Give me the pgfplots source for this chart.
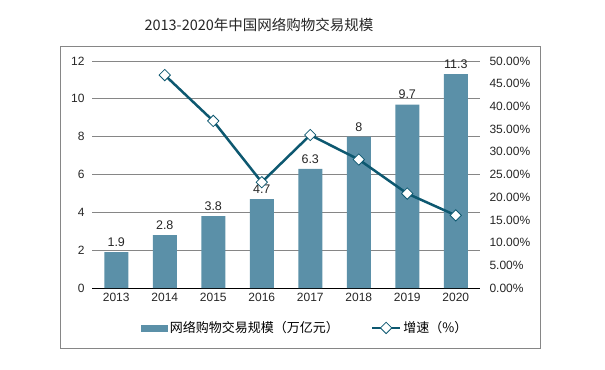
\documentclass[border=0pt]{standalone}
\usepackage{fontspec}
\setmainfont{Liberation Sans}
\newfontfamily\cjk{Noto Sans CJK SC}
\usepackage{pgfplots}
\pgfplotsset{compat=1.18}
\definecolor{barc}{HTML}{5B90A8}
\definecolor{linec}{HTML}{0D5870}
\definecolor{gridc}{HTML}{868686}
\pgfplotsset{mylinelegend/.style={legend image code/.code={\draw[mark repeat=2,mark phase=2,##1] plot coordinates {(0bp,0bp) (14bp,0bp) (28bp,0bp)};}}}
\begin{document}
\begin{tikzpicture}[x=1bp,y=1bp]
\path (0,0) rectangle (605,369);
\draw[color=gridc, line width=0.8bp] (60.5,21) rectangle (540.5,323);
\node[font=\cjk\fontsize{14.5bp}{16bp}\selectfont, text=black!85] at (259,344) {2013-2020年中国网络购物交易规模};
\begin{axis}[
  at={(92bp,81bp)}, anchor=south west,
  scale only axis, width=388bp, height=227bp,
  xmin=-0.5, xmax=7.5, ymin=0, ymax=12,
  xtick={0,...,7}, xticklabels={2013,2014,2015,2016,2017,2018,2019,2020},
  ytick={0,2,...,12},
  axis x line*=bottom, axis y line*=left,
  x axis line style={black, line width=0.9bp, -},
  y axis line style={draw=none},
  major tick length=0pt,
  ymajorgrids, grid style={gridc, line width=0.8bp},
  tick label style={font=\fontsize{12bp}{14bp}\selectfont, text=black!85},
  /pgf/number format/assume math mode=true,
  yticklabel style={xshift=-4bp},
  xticklabel style={yshift=-2bp},
]
\addplot[ybar, bar width=24bp, fill=barc, draw=none,
  nodes near coords,
  nodes near coords style={font=\fontsize{12.5bp}{14bp}\selectfont, text=black!85, yshift=2bp}]
  coordinates {(0,1.9) (1,2.8) (2,3.8) (3,4.7) (4,6.3) (5,8) (6,9.7) (7,11.3)};
\end{axis}
\begin{axis}[
  at={(92bp,81bp)}, anchor=south west,
  scale only axis, width=388bp, height=227bp,
  xmin=-0.5, xmax=7.5, ymin=0, ymax=50,
  ytick={0,5,...,50},
  axis x line=none, axis y line*=right,
  y axis line style={draw=none},
  major tick length=0pt,
  yticklabel={\pgfmathprintnumber[fixed,fixed zerofill,precision=2]{\tick}\%},
  tick label style={font=\fontsize{12bp}{14bp}\selectfont, text=black!85},
  /pgf/number format/assume math mode=true,
  yticklabel style={xshift=6bp},
  legend style={at={(0.55,-0.176)}, anchor=center, draw=none, fill=none,
    legend columns=2, font=\cjk\fontsize{13bp}{15bp}\selectfont,
    /tikz/every even column/.append style={column sep=30bp}},
]
\addlegendimage{legend image code/.code={\fill[barc] (0bp,-3bp) rectangle (26bp,3bp);}}
\addlegendentry{网络购物交易规模（万亿元）}
\addplot[linec, line width=2.5bp, mark=square*, mark size=4bp,
  mark options={rotate=45, fill=white, draw=linec, line width=0.8bp, solid},
  mylinelegend]
  coordinates {(1,46.9) (2,36.8) (3,23.3) (4,33.7) (5,28.3) (6,20.8) (7,16.0)};
\addlegendentry{增速（\%）}
\end{axis}
\end{tikzpicture}
\end{document}
